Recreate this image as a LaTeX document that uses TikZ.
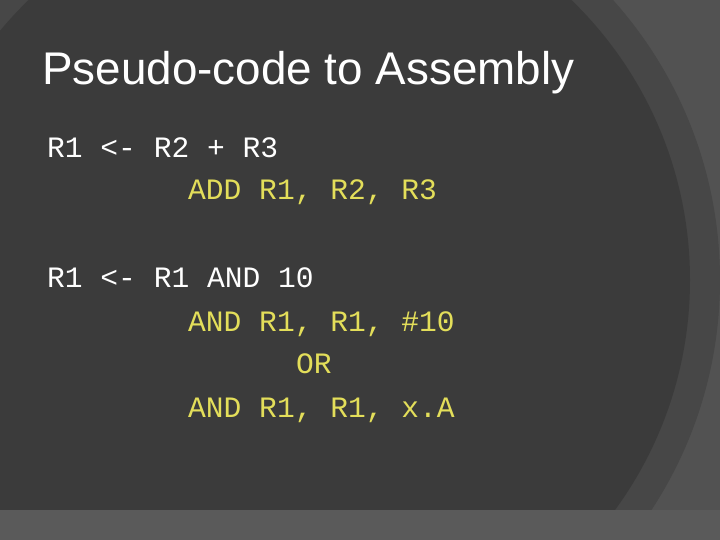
\documentclass[tikz,border=0pt]{standalone}
\usepackage{fontspec}
\setmainfont{Liberation Sans}
\newfontfamily\codefont{Liberation Mono}
\definecolor{bgin}{HTML}{3B3B3B}
\definecolor{bgring}{HTML}{474747}
\definecolor{bgout}{HTML}{525252}
\definecolor{bgbot}{HTML}{5A5A5A}
\definecolor{codey}{HTML}{E3DE5A}
\begin{document}
\begin{tikzpicture}[x=1pt,y=-1pt,
  title/.style={anchor=base west,inner sep=0,text=white,font=\fontsize{45.8}{46}\selectfont},
  plain/.style={anchor=base west,inner sep=0,text=white,font=\codefont\fontsize{29.6}{30}\selectfont},
  code/.style={plain,text=codey}]
\useasboundingbox (0,0) rectangle (720,540);
\fill[bgout] (0,0) rectangle (720,540);
\fill[bgring] (300,280) circle (420);
\fill[bgin] (300,280) circle (390);
\fill[bgbot] (0,510) rectangle (720,540);
\node[title] (t) at (42,85) {Pseudo-code to Assembly};
\node[plain] (l1) at (47,158) {R1 <- R2 + R3};
\node[code] (l2) at (188,200) {ADD R1, R2, R3};
\node[plain] (l3) at (47,287) {R1 <- R1 AND 10};
\node[code] (l4) at (188,331) {AND R1, R1, \#10};
\node[code] (l5) at (296,373) {OR};
\node[code] (l6) at (188,417) {AND R1, R1, x.A};
\end{tikzpicture}
\end{document}
